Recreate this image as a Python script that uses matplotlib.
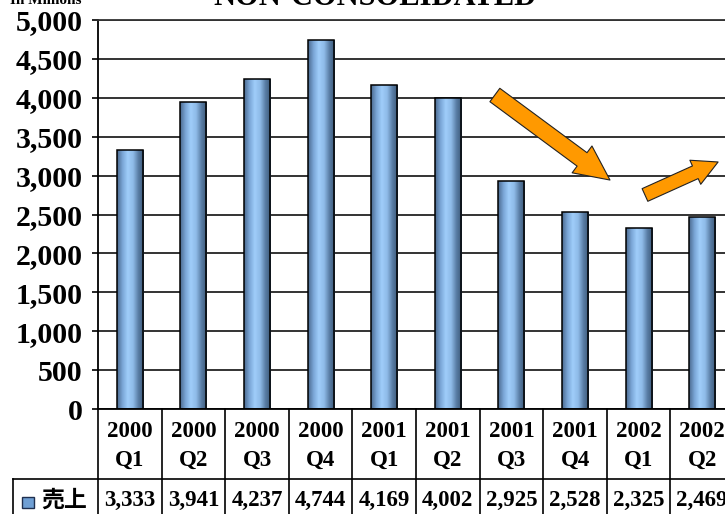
import numpy as np
import matplotlib.pyplot as plt
from matplotlib.patches import FancyArrowPatch, Rectangle
from matplotlib.colors import LinearSegmentedColormap
import matplotlib.transforms as mtransforms

plt.rcParams['font.family'] = ['Liberation Serif', 'Noto Sans CJK JP', 'DejaVu Sans']

years = ['2000', '2000', '2000', '2000', '2001', '2001', '2001', '2001', '2002', '2002']
quarters = ['Q1', 'Q2', 'Q3', 'Q4', 'Q1', 'Q2', 'Q3', 'Q4', 'Q1', 'Q2']
sales = [3333, 3941, 4237, 4744, 4169, 4002, 2925, 2528, 2325, 2469]
series_name = '売上'
yticks = [0, 500, 1000, 1500, 2000, 2500, 3000, 3500, 4000, 4500, 5000]

W, H = 725, 514
fig = plt.figure(figsize=(W / 100, H / 100), dpi=100)
ax = fig.add_axes([98 / W, (H - 409) / H, 636 / W, 389 / H])

n = len(sales)
x = np.arange(n)
ax.set_xlim(-0.5, n - 0.5)
ax.set_ylim(0, 5000)

# cylinder-like shading for the bars
cyl = LinearSegmentedColormap.from_list('cyl', ['#4b6a8f', '#7aa6d6', '#9fcdfa', '#8fbbe8', '#5a7ea6', '#3c5878'])
grad = np.linspace(0, 1, 64).reshape(1, -1)
bars = ax.bar(x, sales, width=0.41, color='none', edgecolor='black', linewidth=1.1, zorder=3)
for b in bars:
    x0, w, h = b.get_x(), b.get_width(), b.get_height()
    im = ax.imshow(grad, cmap=cyl, aspect='auto', extent=[x0, x0 + w, 0, h], zorder=2)
    im.set_clip_path(b)

ax.set_yticks(yticks)
ax.set_yticklabels([f'{v:,}' for v in yticks], fontsize=21.5, fontweight='bold')
ax.tick_params(axis='y', direction='out', length=4, width=1.2, pad=7)
ax.set_xticks([])
ax.grid(axis='y', color='#333333', linewidth=1.4, zorder=1)
ax.set_axisbelow(True)
for s in ['left', 'bottom', 'top']:
    ax.spines[s].set_linewidth(1.3)
ax.spines['top'].set_color('#333333')
ax.spines['right'].set_visible(False)

# data table below the axes
tr = mtransforms.blended_transform_factory(ax.transData, ax.transAxes)
yh = -(479 - 409) / 389
yb = -0.35
yv = -(500 - 409) / 389
ycat = -(446 - 409) / 389
xl = (13 - 98) / 63.6 - 0.5
lk = dict(color='black', linewidth=1.2, transform=tr, clip_on=False)
for i in range(n + 1):
    ax.plot([i - 0.5, i - 0.5], [0, yb], **lk)
ax.plot([xl, n - 0.5], [yh, yh], **lk)
ax.plot([xl, xl], [yh, yb], **lk)
for i in range(n):
    ax.text(i, ycat, f'{years[i]}\n{quarters[i]}', transform=tr, ha='center', va='center',
            fontsize=16.5, fontweight='bold', linespacing=1.5, clip_on=False)
    ax.text(i, yv, f'{sales[i]:,}', transform=tr, ha='center', va='center',
            fontsize=16.5, fontweight='bold', clip_on=False)
ax.add_patch(Rectangle((xl + 0.14, -(508 - 409) / 389), 0.19, 0.028, transform=tr, clip_on=False,
                       facecolor='#6f9fd4', edgecolor='#1f2f4f', linewidth=1.0))
ax.text(xl + 0.44, yv, series_name, transform=tr, ha='left', va='center',
        fontsize=16.5, fontweight='bold', family=['Noto Sans CJK JP', 'DejaVu Sans'], clip_on=False)

# trend arrows
arrow_kw = dict(facecolor='#ff9900', edgecolor='#222222', linewidth=0.8, zorder=5,
                shrinkA=0, shrinkB=0, mutation_scale=1, clip_on=False)
ax.add_patch(FancyArrowPatch((5.74, 4036), (7.55, 2943),
                             arrowstyle='simple,head_length=25,head_width=24,tail_width=12', **arrow_kw))
ax.add_patch(FancyArrowPatch((8.1, 2751), (9.25, 3175),
                             arrowstyle='simple,head_length=18,head_width=19,tail_width=10', **arrow_kw))

fig.text(375 / W, 1 - 5 / H, 'NON-CONSOLIDATED', ha='center', va='baseline', fontsize=22, fontweight='bold')
fig.text(82 / W, 1 - 4 / H, 'In Millions', ha='right', va='baseline', fontsize=11, fontweight='bold')

fig.savefig('out.png', dpi=100)
